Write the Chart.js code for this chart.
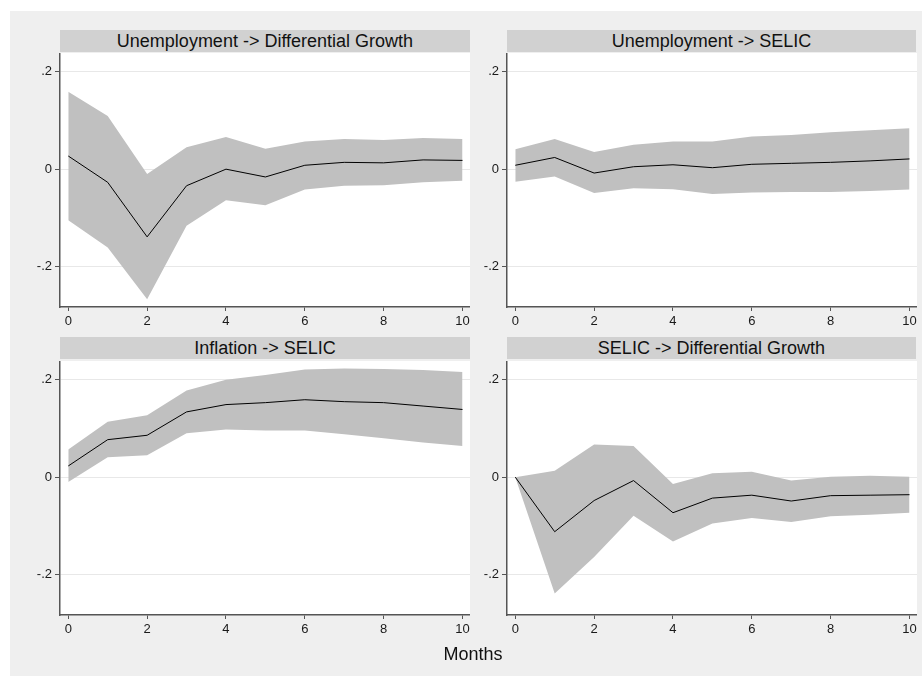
<!DOCTYPE html>
<html><head><meta charset="utf-8">
<script src="https://cdn.jsdelivr.net/npm/chart.js@4/dist/chart.umd.min.js"></script>
<style>
html,body{margin:0;padding:0;background:#fff;}
body{width:922px;height:676px;position:relative;overflow:hidden;font-family:"Liberation Sans",Arial,sans-serif;}
#bg{position:absolute;left:10px;top:11px;width:912px;height:665px;background:#efefef;}
.hdr{position:absolute;height:22px;background:#d1d1d1;color:#111;font-size:18px;line-height:23px;text-align:center;white-space:nowrap;}
canvas{position:absolute;}
#xlab{position:absolute;left:373px;width:200px;top:643px;text-align:center;font-size:18px;line-height:22px;color:#111;}
</style></head>
<body>
<div id="bg"></div>
<div class="hdr" id="h0" style="left:60px;top:30px;width:410px;"></div>
<div class="hdr" id="h1" style="left:507px;top:30px;width:409px;"></div>
<div class="hdr" id="h2" style="left:60px;top:337px;width:410px;"></div>
<div class="hdr" id="h3" style="left:507px;top:337px;width:409px;"></div>
<canvas id="c0" width="450" height="284" style="left:20px;top:53px;"></canvas>
<canvas id="c1" width="450" height="284" style="left:467px;top:53px;"></canvas>
<canvas id="c2" width="450" height="284" style="left:20px;top:361px;"></canvas>
<canvas id="c3" width="450" height="284" style="left:467px;top:361px;"></canvas>
<div id="xlab"></div>
<script>
// ---- data ----
const months = [0, 1, 2, 3, 4, 5, 6, 7, 8, 9, 10];
const xTickValues = [0, 2, 4, 6, 8, 10];
const yTickValues = [-0.2, 0, 0.2];
const yTickLabels = ['-.2', '0', '.2'];
const xAxisTitle = 'Months';
const panelTitles = [
  'Unemployment -> Differential Growth',
  'Unemployment -> SELIC',
  'Inflation -> SELIC',
  'SELIC -> Differential Growth'
];

// Unemployment -> Differential Growth
const unempDiffIrf   = [0.027, -0.027, -0.139, -0.034, 0.000, -0.016, 0.008, 0.014, 0.013, 0.019, 0.018];
const unempDiffLower = [-0.105, -0.161, -0.267, -0.116, -0.064, -0.074, -0.042, -0.034, -0.033, -0.027, -0.024];
const unempDiffUpper = [0.159, 0.109, -0.010, 0.045, 0.066, 0.042, 0.057, 0.062, 0.060, 0.064, 0.062];

// Unemployment -> SELIC
const unempSelicIrf   = [0.008, 0.024, -0.008, 0.005, 0.009, 0.003, 0.010, 0.012, 0.014, 0.017, 0.021];
const unempSelicLower = [-0.026, -0.015, -0.049, -0.039, -0.041, -0.051, -0.048, -0.047, -0.047, -0.045, -0.042];
const unempSelicUpper = [0.041, 0.062, 0.035, 0.050, 0.057, 0.057, 0.067, 0.070, 0.076, 0.080, 0.084];

// Inflation -> SELIC
const inflSelicIrf   = [0.023, 0.077, 0.086, 0.134, 0.149, 0.153, 0.159, 0.155, 0.153, 0.146, 0.139];
const inflSelicLower = [-0.010, 0.041, 0.045, 0.090, 0.098, 0.096, 0.096, 0.088, 0.080, 0.071, 0.064];
const inflSelicUpper = [0.057, 0.114, 0.127, 0.178, 0.200, 0.210, 0.221, 0.223, 0.222, 0.220, 0.216];

// SELIC -> Differential Growth
const selicDiffIrf   = [0.000, -0.112, -0.048, -0.007, -0.073, -0.043, -0.037, -0.049, -0.038, -0.037, -0.036];
const selicDiffLower = [0.000, -0.239, -0.164, -0.079, -0.132, -0.095, -0.084, -0.092, -0.080, -0.077, -0.073];
const selicDiffUpper = [0.000, 0.013, 0.067, 0.064, -0.014, 0.008, 0.011, -0.007, 0.001, 0.003, 0.001];

const panels = [
  [unempDiffIrf, unempDiffLower, unempDiffUpper],
  [unempSelicIrf, unempSelicLower, unempSelicUpper],
  [inflSelicIrf, inflSelicLower, inflSelicUpper],
  [selicDiffIrf, selicDiffLower, selicDiffUpper]
];

// ---- styling ----
const FONT = '"Liberation Sans", Arial, sans-serif';
const AXIS_COLOR = '#555555';
const BAND_COLOR = '#c0c0c0';
const GRID_COLOR = '#e8e8e8';

const plotBg = {
  id: 'plotBg',
  beforeDraw(chart) {
    const a = chart.chartArea, ctx = chart.ctx;
    ctx.save();
    ctx.fillStyle = '#ffffff';
    ctx.fillRect(a.left, a.top, a.right - a.left, a.bottom - a.top);
    ctx.restore();
  }
};

function pts(arr) { return months.map((m, i) => ({ x: m, y: arr[i] })); }

panels.forEach((p, k) => {
  document.getElementById('h' + k).textContent = panelTitles[k];
  new Chart(document.getElementById('c' + k), {
    type: 'line',
    data: {
      datasets: [
        { data: pts(p[0]), borderColor: '#000000', borderWidth: 1, pointRadius: 0, fill: false, tension: 0 },
        { data: pts(p[1]), borderWidth: 0, borderColor: 'rgba(0,0,0,0)', pointRadius: 0, fill: false, tension: 0 },
        { data: pts(p[2]), borderWidth: 0, borderColor: 'rgba(0,0,0,0)', pointRadius: 0, fill: 1, backgroundColor: BAND_COLOR, tension: 0 }
      ]
    },
    options: {
      responsive: false,
      animation: false,
      devicePixelRatio: 1,
      layout: { padding: 0 },
      plugins: { legend: { display: false }, tooltip: { enabled: false }, title: { display: false } },
      scales: {
        x: {
          type: 'linear', min: -0.21, max: 10.19,
          afterBuildTicks(s) { s.ticks = xTickValues.map(v => ({ value: v })); },
          afterFit(s) { s.height = 30; s.paddingLeft = 0; s.paddingRight = 0; },
          grid: { drawOnChartArea: false, drawTicks: true, tickLength: 4, tickColor: AXIS_COLOR, tickWidth: 1 },
          border: { display: true, color: AXIS_COLOR, width: 1.5 },
          ticks: { color: '#1a1a1a', font: { family: FONT, size: 13 }, padding: 3, maxRotation: 0, autoSkip: false,
                   callback: (v) => String(v) }
        },
        y: {
          type: 'linear', min: -0.283, max: 0.2385,
          afterBuildTicks(s) { s.ticks = yTickValues.map(v => ({ value: v })); },
          afterFit(s) { s.width = 40; s.paddingTop = 0; s.paddingBottom = 0; },
          grid: { color: GRID_COLOR, lineWidth: 1, drawTicks: true, tickLength: 5, tickColor: AXIS_COLOR, tickWidth: 1 },
          border: { display: true, color: AXIS_COLOR, width: 1.5 },
          ticks: { color: '#1a1a1a', font: { family: FONT, size: 13 }, padding: 3, autoSkip: false,
                   callback: (v) => { const i = yTickValues.findIndex(t => Math.abs(t - v) < 1e-9); return i >= 0 ? yTickLabels[i] : ''; } }
        }
      }
    },
    plugins: [plotBg]
  });
});
document.getElementById('xlab').textContent = xAxisTitle;
</script>
</body></html>
